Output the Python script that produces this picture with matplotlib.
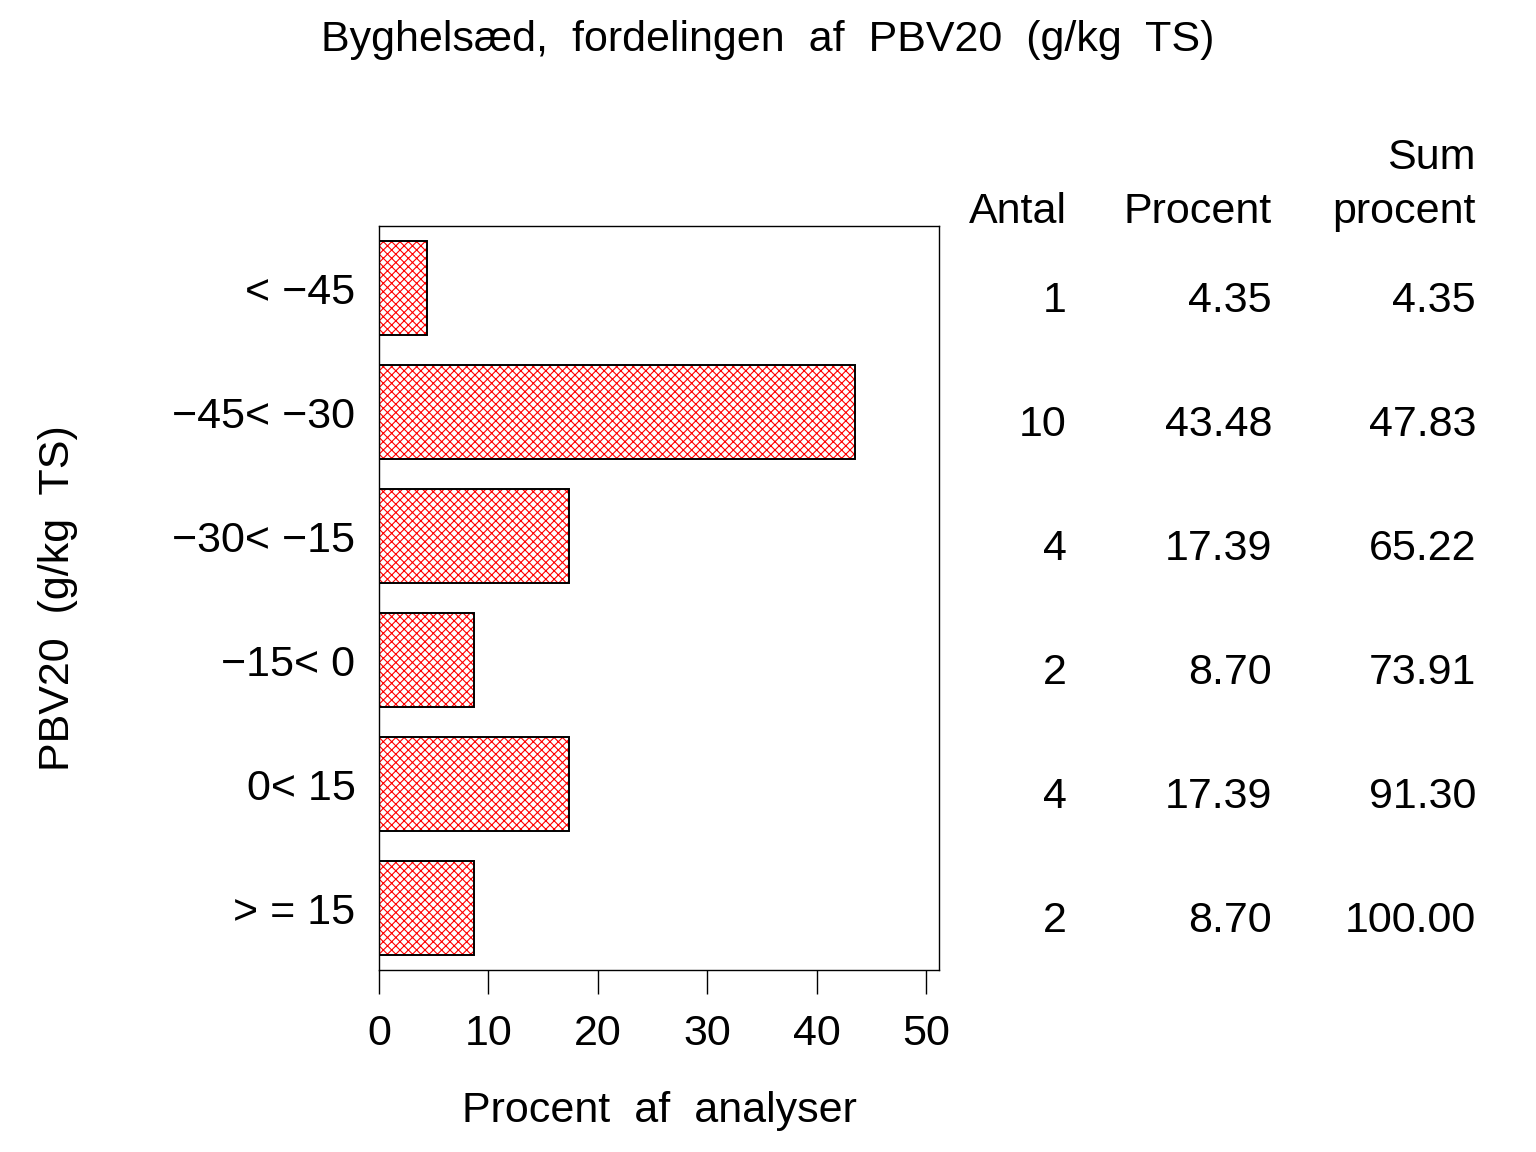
import matplotlib
matplotlib.use("Agg")
import matplotlib.pyplot as plt
from matplotlib.transforms import blended_transform_factory, ScaledTranslation

# data
categories = ["< \u221245", "\u221245< \u221230", "\u221230< \u221215",
              "\u221215< 0", "0< 15", "> = 15"]
antal = [1, 10, 4, 2, 4, 2]
procent = [4.35, 43.48, 17.39, 8.70, 17.39, 8.70]
sum_procent = [4.35, 47.83, 65.22, 73.91, 91.30, 100.00]
xticks = [0, 10, 20, 30, 40, 50]

plt.rcParams.update({
    "font.family": ["Liberation Sans", "DejaVu Sans"],
    "font.size": 31,
    "hatch.linewidth": 0.8,
})

fig = plt.figure(figsize=(15.36, 11.52), dpi=100)
ax = fig.add_axes([379 / 1536, 1 - 970 / 1152, 560 / 1536, 744 / 1152])

ypos = list(range(len(categories)))
# red cross-hatch first, then black outline on top
ax.barh(ypos, procent, height=0.76, color="white", edgecolor="red",
        linewidth=0, hatch="xxxx")
ax.barh(ypos, procent, height=0.76, fill=False, edgecolor="black",
        linewidth=1.4)
ax.set_ylim(len(categories) - 0.5, -0.5)
ax.set_xlim(0, 51.2)
ax.set_yticks(ypos)
ax.set_yticklabels(categories)
ax.set_xticks(xticks)
ax.tick_params(axis="y", length=0, pad=17)
ax.tick_params(axis="x", length=17, width=1, direction="out", pad=15)
for s in ax.spines.values():
    s.set_linewidth(1)

ax.set_xlabel("Procent  af  analyser", labelpad=26)
ax.set_ylabel("PBV20  (g/kg  TS)", labelpad=68)
fig.suptitle("Byghelsæd,  fordelingen  af  PBV20  (g/kg  TS)", y=0.983, fontsize=31)

# statistics table to the right of the chart
tr = blended_transform_factory(fig.transFigure, ax.transData)
tr = tr + ScaledTranslation(0, -13 / 100, fig.dpi_scale_trans)
col_x = [1067 / 1536, 1272 / 1536, 1476 / 1536]
for i in ypos:
    for cx, txt in zip(col_x, [f"{antal[i]}", f"{procent[i]:.2f}", f"{sum_procent[i]:.2f}"]):
        ax.text(cx, i, txt, transform=tr, ha="right", va="center", clip_on=False)

hdr_y = 1 - 212 / 1152
fig.text(col_x[0], hdr_y, "Antal", ha="right", va="center")
fig.text(col_x[1], hdr_y, "Procent", ha="right", va="center")
fig.text(col_x[2], hdr_y, "procent", ha="right", va="center")
fig.text(col_x[2], 1 - 158 / 1152, "Sum", ha="right", va="center")

fig.savefig("out.png", dpi=100)
